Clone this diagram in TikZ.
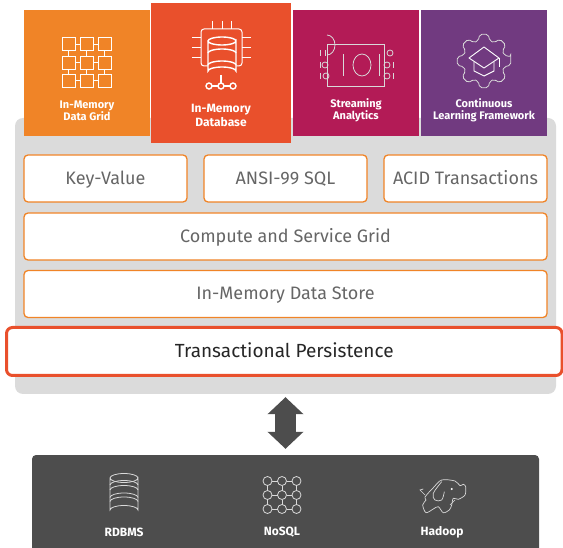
\documentclass[tikz,border=0pt]{standalone}
\usepackage{fontspec}
\usepackage{tikz}
\usetikzlibrary{arrows.meta}
\setmainfont{Fira Sans}
\definecolor{igorange}{HTML}{F08427}
\definecolor{igred}{HTML}{E9502C}
\definecolor{igcrimson}{HTML}{B31B56}
\definecolor{igpurple}{HTML}{713A80}
\definecolor{iggray}{HTML}{DBDBDB}
\definecolor{igdark}{HTML}{4D4D4D}
\definecolor{igtext}{HTML}{666666}
\tikzset{
    tile/.style={inner sep=0pt,minimum width=126,minimum height=126},
    tilelabel/.style={white,align=center,font=\fontsize{11}{12}\selectfont\bfseries},
    storelabel/.style={white,font=\fontsize{12}{14}\selectfont\bfseries},
    layer/.style={draw=igorange,fill=white,line width=1.3pt,rounded corners=4pt,inner sep=0pt,minimum height=47,text height=14,text depth=2,text=igtext,font=\fontsize{18}{20}\selectfont},
    icon/.style={draw=white,line width=1pt},
    thinicon/.style={draw=white!85!black,line width=0.8pt},
    bigarrow/.style={draw=igdark,line width=21pt,{Triangle[width=35pt,length=17pt]}-{Triangle[width=35pt,length=17pt]},shorten <=3pt,shorten >=6pt},
}
\begin{document}
\begin{tikzpicture}[x=1pt,y=-1pt]
    \useasboundingbox (0,0) rectangle (563,548);
    \node[fill=iggray,rounded corners=8pt,inner sep=0pt,minimum width=541,minimum height=276] (core) at (285.5,256) {};
    \node[tile,fill=igorange] (gridtile) at (87,73) {};
    \node[tile,fill=igcrimson] (streamtile) at (356,73) {};
    \node[tile,fill=igpurple] (learntile) at (484,73) {};
    \node[tile,fill=igred,minimum width=140,minimum height=140] (dbtile) at (221,73) {};
    \node[tilelabel] (gridlabel) at (87,110.5) {In-Memory\\Data Grid};
    \node[tilelabel,font=\fontsize{12}{14}\selectfont\bfseries] (dblabel) at (221,115) {In-Memory\\Database};
    \node[tilelabel] (streamlabel) at (356,110.5) {Streaming\\Analytics};
    \node[tilelabel] (learnlabel) at (484,110.5) {Continuous\\Learning Framework};
    \node[layer,minimum width=163] (keyvalue) at (105.5,178.5) {Key-Value};
    \node[layer,minimum width=163] (ansi) at (285.5,178.5) {ANSI-99 SQL};
    \node[layer,minimum width=163] (acid) at (465.5,178.5) {ACID Transactions};
    \node[layer,minimum width=523] (compute) at (285.5,236.5) {Compute and Service Grid};
    \node[layer,minimum width=523] (datastore) at (285.5,294) {In-Memory Data Store};
    \node[layer,draw=igred,line width=3pt,rounded corners=6pt,minimum width=555.5,minimum height=48,text=black!85,font=\fontsize{19}{20}\selectfont] (persist) at (284.25,351.5) {Transactional Persistence};
    \node[fill=igdark,rounded corners=4pt,inner sep=0pt,minimum width=507,minimum height=110] (store) at (285.5,510) {};
    \draw[bigarrow] (core) -- (store);
    \node[storelabel] (rdbms) at (124,532) {RDBMS};
    \node[storelabel] (nosql) at (282,532) {NoSQL};
    \node[storelabel] (hadoop) at (442,532) {Hadoop};
    \foreach \cx in {68.5,86.5,104.5} {
        \foreach \cy in {44.5,63,81} {
            \draw[icon] (\cx-6.5,\cy-6.5) rectangle (\cx+6.5,\cy+6.5);
        }
        \draw[icon] (\cx,51) -- (\cx,56.5);
        \draw[icon] (\cx,69.5) -- (\cx,74.5);
    }
    \foreach \cy in {44.5,63,81} {
        \draw[icon] (75,\cy) -- (80,\cy);
        \draw[icon] (93,\cy) -- (98,\cy);
    }
    \draw[icon,rounded corners=3pt] (201,29) rectangle (242,66);
    \foreach \px in {212,222,231} {
        \draw[icon] (\px,21) -- (\px,29);
    }
    \foreach \py in {38,48,58} {
        \draw[icon] (192,\py) -- (201,\py);
        \draw[icon] (242,\py) -- (251,\py);
    }
    \draw[icon,line width=1.4pt,fill=igred] (208,41) -- (208,71) arc[start angle=180,end angle=360,x radius=14,y radius=4] -- (236,41) arc[start angle=0,end angle=360,x radius=14,y radius=4];
    \foreach \py in {53,65} {
        \draw[icon,line width=1.4pt] (208,\py) arc[start angle=180,end angle=360,x radius=14,y radius=4];
    }
    \draw[icon,line width=1.4pt] (221,75) -- (221,86);
    \draw[icon,line width=1.4pt] (209,86) -- (233,86);
    \foreach \px in {209,221,233} {
        \draw[icon,line width=1.4pt,fill=igred] (\px,86) circle (3);
    }
    \draw[thinicon] (327,44) rectangle (384,86);
    \draw[thinicon] (327,55) arc[start angle=90,end angle=-90,x radius=8,y radius=10];
    \draw[thinicon] (362,65) ellipse (9 and 11);
    \draw[thinicon] (343,54) -- (343,76);
    \draw[thinicon] (379,54) -- (379,76);
    \draw[thinicon] (320,50) -- (320,56);
    \draw[thinicon] (325,50) -- (325,56);
    \draw[thinicon] (320,62) -- (320,68);
    \draw[thinicon] (320,73) -- (320,79);
    \draw[thinicon] (325,65) circle (3);
    \draw[thinicon] (326,76) circle (3);
    \draw[thinicon] (390,53) circle (3);
    \draw[thinicon] (387,65) circle (3);
    \draw[thinicon] (387,76) circle (3);
    \draw[thinicon] (393,62) -- (393,68);
    \draw[thinicon] (393,73) -- (393,79);
    \draw[thinicon,rounded corners=2pt]
        ({484+27*cos(-9)},{61+27*sin(-9)}) \foreach \a in {0,45,...,315} {
            -- ({484+27*cos(\a+9)},{61+27*sin(\a+9)})
            -- ({484+21*cos(\a+16)},{61+21*sin(\a+16)})
            -- ({484+21*cos(\a+29)},{61+21*sin(\a+29)})
            -- ({484+27*cos(\a+36)},{61+27*sin(\a+36)})
        } -- cycle;
    \draw[icon,line width=0.9pt,line join=round] (484,47) -- (499,58) -- (484,68) -- (469,58) -- cycle;
    \draw[icon,line width=0.9pt] (474,62) -- (474,71) -- (484,76) -- (494,71) -- (494,62);
    \draw[icon,line width=0.9pt] (499,58) -- (499,67);
    \draw[thinicon] (110,478) -- (110,510) arc[start angle=180,end angle=360,x radius=14,y radius=4.5] -- (138,478) arc[start angle=0,end angle=360,x radius=14,y radius=4.5];
    \foreach \py in {485,490,497.5,501.5} {
        \draw[thinicon] (110,\py) arc[start angle=180,end angle=360,x radius=14,y radius=4.5];
    }
    \foreach \cx in {267.5,282,296.5} {
        \foreach \cy in {481,495,509} {
            \draw[thinicon] (\cx,\cy) circle (4.5);
        }
        \draw[thinicon] (\cx,485.5) -- (\cx,490.5);
        \draw[thinicon] (\cx,499.5) -- (\cx,504.5);
    }
    \foreach \cy in {481,495,509} {
        \draw[thinicon] (272,\cy) -- (277.5,\cy);
        \draw[thinicon] (286.5,\cy) -- (292,\cy);
    }
    \draw[thinicon,line width=0.7pt] plot[smooth cycle,tension=0.5] coordinates {(425,497) (433.3,487.7) (441.7,480) (455,481) (460,485.7) (463.3,484.3) (465.7,486.7) (465,495) (458.3,499.3) (453.3,498.3) (451.7,505) (449.3,510) (443.3,512.7) (438.3,506.7) (433.3,509) (426,512.7) (422.7,505) (426,500)};
    \draw[thinicon,line width=0.7pt] plot[smooth,tension=0.6] coordinates {(441.7,481.7) (433.3,493.3) (435,500) (441.7,500) (444.3,491.7)};
    \draw[thinicon,line width=0.7pt] (425,495) -- (420,490) -- (423.3,489);
    \draw[thinicon,line width=0.7pt] (455,500) -- (450,505);
    \fill[white] (451.7,489) circle (1.2);
\end{tikzpicture}
\end{document}
